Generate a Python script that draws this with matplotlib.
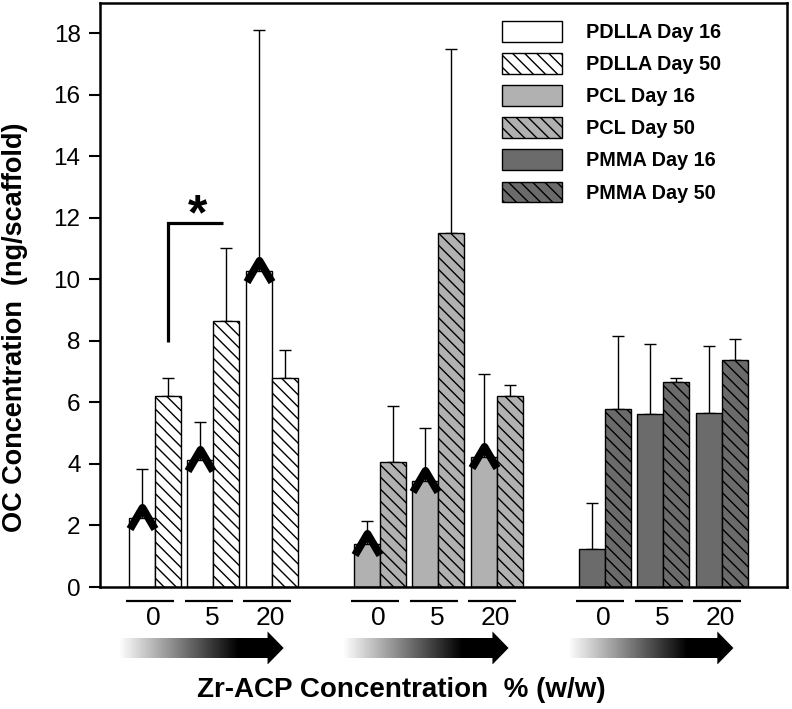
import numpy as np
import matplotlib
matplotlib.use('Agg')
import matplotlib.pyplot as plt
from matplotlib.patches import Polygon
from matplotlib.path import Path

plt.rcParams['font.family'] = ['Liberation Sans', 'DejaVu Sans']

# ---------------- data ----------------
concentrations = ['0', '5', '20']
polymers = ['PDLLA', 'PCL', 'PMMA']

pdlla_d16 = [2.25, 4.13, 10.27]
pdlla_d16_err = [1.58, 1.22, 7.83]
pdlla_d50 = [6.21, 8.65, 6.81]
pdlla_d50_err = [0.57, 2.38, 0.88]

pcl_d16 = [1.40, 3.45, 4.24]
pcl_d16_err = [0.75, 1.72, 2.70]
pcl_d50 = [4.08, 11.51, 6.21]
pcl_d50_err = [1.80, 5.98, 0.37]

pmma_d16 = [1.25, 5.61, 5.67]
pmma_d16_err = [1.48, 2.30, 2.16]
pmma_d50 = [5.80, 6.65, 7.38]
pmma_d50_err = [2.35, 0.13, 0.67]

caret_marked = [True, True, False]  # '^' markers on Day 16 bars
sig_low, sig_high = 7.95, 11.85     # significance bracket heights

series = [
    (pdlla_d16, pdlla_d16_err, pdlla_d50, pdlla_d50_err),
    (pcl_d16, pcl_d16_err, pcl_d50, pcl_d50_err),
    (pmma_d16, pmma_d16_err, pmma_d50, pmma_d50_err),
]
colors = ['white', '#b1b1b1', '#6b6b6b']

# ---------------- layout ----------------
DPI = 145
k = 100 / DPI  # size factor (sizes below were tuned for 100 dpi)
plt.rcParams['hatch.linewidth'] = 1.0 * k

W, H = 792, 709
fig = plt.figure(figsize=(W / DPI, H / DPI), dpi=DPI)
L, R, B, T = 100, 787, 587, 2.6
ax = fig.add_axes([L / W, 1 - B / H, (R - L) / W, (B - T) / H])

bar_w = 1.0
pair_step = 2.25
group_step = 8.65
xlim = (-1.115, 25.31)

caret = Path([(-1, -0.85), (0, 0.85), (1, -0.85)],
             [Path.MOVETO, Path.LINETO, Path.LINETO])

lefts_all = []
for g, (name, (d16, e16, d50, e50)) in enumerate(zip(polymers, series)):
    lefts = g * group_step + np.arange(len(concentrations)) * pair_step
    lefts_all.append(lefts)
    ax.bar(lefts, d16, width=bar_w, align='edge', color=colors[g],
           edgecolor='black', linewidth=1.0 * k, label=f'{name} Day 16', zorder=2)
    ax.bar(lefts + bar_w, d50, width=bar_w, align='edge', color=colors[g],
           edgecolor='black', linewidth=1.0 * k, hatch='\\\\\\\\',
           label=f'{name} Day 50', zorder=2)
    c16 = lefts + bar_w / 2
    c50 = lefts + 1.5 * bar_w
    ax.errorbar(c16, d16, yerr=[np.zeros(3), e16], fmt='none', ecolor='black',
                elinewidth=1.0 * k, capsize=4 * k, capthick=1.0 * k, zorder=1)
    ax.errorbar(c50, d50, yerr=[np.zeros(3), e50], fmt='none', ecolor='black',
                elinewidth=1.0 * k, capsize=4 * k, capthick=1.0 * k, zorder=1)
    if caret_marked[g]:
        ax.plot(c16, d16, linestyle='none', marker=caret, markersize=18 * k,
                mfc='none', mec='black', mew=5.6 * k, zorder=4)

# significance bracket between PDLLA day 50 at 0 % and 5 %
xa = lefts_all[0][0] + 1.5 * bar_w
xb = lefts_all[0][1] + 1.5 * bar_w - 0.15
ax.plot([xa, xa, xb], [sig_low, sig_high, sig_high], color='black', lw=2.3 * k,
        solid_joinstyle='miter', solid_capstyle='butt', zorder=3)
ax.annotate('*', xy=((xa + xb) / 2 + 0.1, sig_high), xytext=(0, -5 * k),
            textcoords='offset points', ha='center', va='baseline',
            fontsize=36 * k, fontweight='bold')

ax.set_xlim(*xlim)
ax.set_ylim(0, 19)
ax.set_xticks([])
ax.set_yticks(np.arange(0, 19, 2))
ax.tick_params(axis='y', direction='out', length=8 * k, width=1.5 * k,
               labelsize=17.5 * k, pad=6 * k)
for s in ax.spines.values():
    s.set_linewidth(1.8 * k)

ax.legend(loc='upper left', bbox_to_anchor=(502 / W, 1 - 21 / H),
          bbox_transform=fig.transFigure, frameon=False,
          prop={'weight': 'bold', 'size': 14.3 * k}, handlelength=3.0,
          handleheight=1.22, labelspacing=0.56, handletextpad=1.22,
          borderpad=0, borderaxespad=0)

# ---------------- annotations below the axes ----------------
axb = fig.add_axes([L / W, 0, (R - L) / W, (H - B) / H])
axb.axis('off')

grad = np.clip(1 - np.linspace(0, 1, 400) / 0.72, 0, 1)[None, :]
for g, lefts in enumerate(lefts_all):
    for lab, lft in zip(concentrations, lefts):
        axb.plot([lft - 0.1, lft + 1.75], [14, 14], color='black', lw=1.6 * k,
                 solid_capstyle='butt')
        axb.text(lft + 0.95, 31, lab, ha='center', va='center', fontsize=19 * k)
    x0 = g * group_step - 0.4
    x1 = x0 + 6.35
    hl = 0.62
    verts = [(x0, 51), (x1 - hl, 51), (x1 - hl, 44.5), (x1, 61),
             (x1 - hl, 77.5), (x1 - hl, 71), (x0, 71)]
    poly = Polygon(verts, closed=True, facecolor='none', edgecolor='none',
                   transform=axb.transData)
    axb.add_patch(poly)
    im = axb.imshow(grad, cmap='gray', vmin=0, vmax=1, extent=(x0, x1, 77.5, 44.5),
                    aspect='auto', interpolation='bilinear')
    im.set_clip_path(poly)

axb.set_xlim(*xlim)
axb.set_ylim(H - B, 0)
axb.set_aspect('auto')

fig.text(401 / W, 1 - 690 / H, 'Zr-ACP Concentration  % (w/w)', ha='center',
         va='center', fontsize=20 * k, fontweight='bold')
fig.text(15 / W, 1 - 327 / H, 'OC Concentration  (ng/scaffold)', rotation=90,
         ha='center', va='center', fontsize=19.5 * k, fontweight='bold')

fig.savefig('out.png', dpi=DPI)
